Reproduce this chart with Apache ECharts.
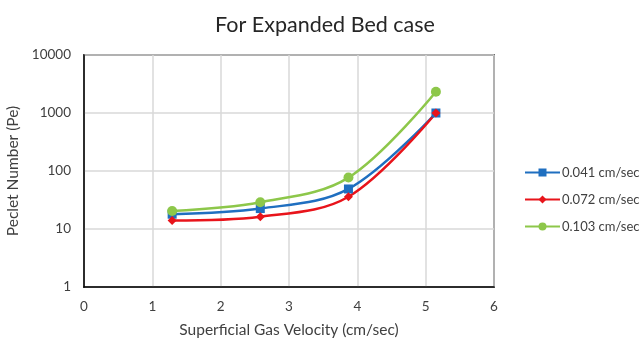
<!DOCTYPE html>
<html>
<head>
<meta charset="utf-8">
<script src="https://cdn.jsdelivr.net/npm/echarts@6/dist/echarts.min.js"></script>
<style>
  html, body { margin: 0; padding: 0; background: #fff; }
  #chart { width: 644px; height: 341px; }
</style>
</head>
<body>
<div id="chart"></div>
<script>
// Superficial gas velocity (cm/sec)
const velocity = [1.29, 2.58, 3.87, 5.15];
// Peclet number for each liquid velocity
const pe041 = [18, 22.5, 49, 1000];
const pe072 = [14, 16.3, 36, 1000];
const pe103 = [20.5, 29, 77, 2330];
const seriesNames = ['0.041 cm/sec', '0.072 cm/sec', '0.103 cm/sec'];
const xTicks = [0, 1, 2, 3, 4, 5, 6];
const yTicks = [1, 10, 100, 1000, 10000];

const FONT = 'Lato, "Open Sans", sans-serif';
const TEXT = '#404040';
const toPairs = ys => velocity.map((x, i) => [x, ys[i]]);

function lineSeries(name, ys, color, symbol, size) {
  return {
    name: name,
    type: 'line',
    data: toPairs(ys),
    smooth: 0.35,
    symbol: symbol,
    symbolSize: size,
    lineStyle: { color: color, width: 2.5 },
    itemStyle: { color: color },
    z: 3
  };
}

const chart = echarts.init(document.getElementById('chart'), null, { renderer: 'canvas' });
chart.setOption({
  animation: false,
  backgroundColor: '#fff',
  textStyle: { fontFamily: FONT },
  title: {
    text: 'For Expanded Bed case',
    left: 320,
    textAlign: 'center',
    top: 9,
    textStyle: { fontFamily: FONT, fontSize: 21.5, fontWeight: 'normal', color: '#262626' }
  },
  legend: {
    orient: 'vertical',
    left: 519,
    top: 161,
    itemWidth: 35,
    itemHeight: 10,
    itemGap: 14,
    textStyle: { fontFamily: FONT, fontSize: 13, color: TEXT, padding: [0, 0, 0, -3] },
    data: seriesNames
  },
  grid: {
    left: 84, right: 150, top: 55, bottom: 54,
    outerBoundsMode: 'none',
    containLabel: false,
    show: true, borderColor: '#000', borderWidth: 1.5, backgroundColor: 'transparent'
  },
  xAxis: {
    type: 'value',
    min: xTicks[0],
    max: xTicks[xTicks.length - 1],
    interval: 1,
    name: 'Superficial Gas Velocity (cm/sec)',
    nameLocation: 'middle',
    nameGap: 35,
    nameTextStyle: { fontFamily: FONT, fontSize: 15.5, color: TEXT },
    axisLine: { show: true, onZero: false, lineStyle: { color: '#000', width: 1.5 } },
    axisTick: { show: false },
    axisLabel: { margin: 13, fontFamily: FONT, fontSize: 13.5, color: TEXT },
    splitLine: { show: true, lineStyle: { color: '#d9d9d9', width: 1.5 } }
  },
  yAxis: {
    type: 'log',
    logBase: 10,
    min: yTicks[0],
    max: yTicks[yTicks.length - 1],
    name: 'Peclet Number (Pe)',
    nameLocation: 'middle',
    nameGap: 54,
    nameTextStyle: { fontFamily: FONT, fontSize: 15.5, color: TEXT },
    axisLine: { show: true, lineStyle: { color: '#000', width: 1.5 } },
    axisTick: { show: false },
    axisLabel: {
      margin: 13, fontFamily: FONT, fontSize: 13.5, color: TEXT,
      formatter: v => String(Math.round(v))
    },
    splitLine: { show: true, lineStyle: { color: '#d9d9d9', width: 1.5 } }
  },
  series: [
    lineSeries(seriesNames[0], pe041, '#1f6fc0', 'rect', 9),
    lineSeries(seriesNames[1], pe072, '#e8141b', 'diamond', 9),
    lineSeries(seriesNames[2], pe103, '#8dc74a', 'circle', 10)
  ]
});
</script>
</body>
</html>
